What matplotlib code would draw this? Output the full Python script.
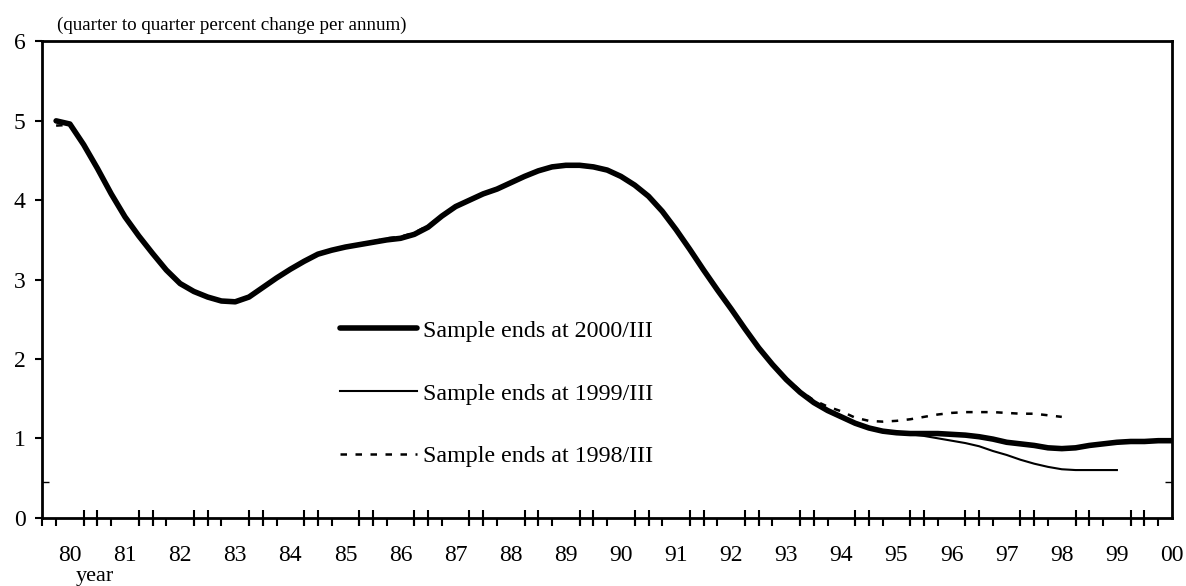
import numpy as np
import matplotlib
matplotlib.use("Agg")
import matplotlib.pyplot as plt

plt.rcParams["font.family"] = ["Liberation Serif", "DejaVu Serif"]

# Quarterly growth of potential output, first observation 1980/II
start_year = 1980.25
sample_2000 = [
    5.00, 4.96, 4.70, 4.40, 4.08, 3.79, 3.55, 3.33, 3.12, 2.95,
    2.85, 2.78, 2.73, 2.72, 2.78, 2.90, 3.02, 3.13, 3.23, 3.32,
    3.37, 3.41, 3.44, 3.47, 3.50, 3.52, 3.57, 3.66, 3.80, 3.92,
    4.00, 4.08, 4.14, 4.22, 4.30, 4.37, 4.42, 4.44, 4.44, 4.42,
    4.38, 4.30, 4.19, 4.05, 3.86, 3.63, 3.38, 3.12, 2.87, 2.63,
    2.38, 2.14, 1.93, 1.74, 1.58, 1.45, 1.35, 1.27, 1.19, 1.13,
    1.09, 1.07, 1.06, 1.06, 1.06, 1.05, 1.04, 1.02, 0.99, 0.95,
    0.93, 0.91, 0.88, 0.87, 0.88, 0.91, 0.93, 0.95, 0.96, 0.96,
    0.97, 0.97,
]
sample_1999 = [
    5.00, 4.96, 4.70, 4.40, 4.08, 3.79, 3.55, 3.33, 3.12, 2.95,
    2.85, 2.78, 2.73, 2.72, 2.78, 2.90, 3.02, 3.13, 3.23, 3.32,
    3.37, 3.41, 3.44, 3.47, 3.50, 3.52, 3.57, 3.66, 3.80, 3.92,
    4.00, 4.08, 4.14, 4.22, 4.30, 4.37, 4.42, 4.44, 4.44, 4.42,
    4.38, 4.30, 4.19, 4.05, 3.86, 3.63, 3.38, 3.12, 2.87, 2.63,
    2.38, 2.14, 1.93, 1.74, 1.58, 1.45, 1.35, 1.27, 1.19, 1.13,
    1.09, 1.07, 1.05, 1.03, 1.00, 0.97, 0.94, 0.90, 0.84, 0.79,
    0.73, 0.68, 0.64, 0.61, 0.60, 0.60, 0.60, 0.60,
]
sample_1998 = [
    4.94, 4.95, 4.70, 4.40, 4.08, 3.79, 3.55, 3.33, 3.12, 2.95,
    2.85, 2.78, 2.73, 2.72, 2.78, 2.90, 3.02, 3.13, 3.23, 3.32,
    3.37, 3.41, 3.45, 3.48, 3.52, 3.54, 3.59, 3.68, 3.81, 3.92,
    4.00, 4.08, 4.14, 4.22, 4.30, 4.37, 4.42, 4.44, 4.43, 4.41,
    4.37, 4.29, 4.18, 4.04, 3.86, 3.63, 3.38, 3.12, 2.87, 2.63,
    2.39, 2.15, 1.94, 1.76, 1.60, 1.48, 1.40, 1.34, 1.26, 1.22,
    1.21, 1.22, 1.24, 1.27, 1.30, 1.32, 1.33, 1.33, 1.33, 1.32,
    1.31, 1.31, 1.29, 1.27,
]
year_labels = ["80", "81", "82", "83", "84", "85", "86", "87", "88", "89",
               "90", "91", "92", "93", "94", "95", "96", "97", "98", "99", "00"]

def quarter_axis(values):
    return start_year + 0.25 * np.arange(len(values))

fig = plt.figure(figsize=(11.86, 5.86), dpi=100)
ax = fig.add_axes([0.0357, 0.1166, 0.9525, 0.8126])

l2000, = ax.plot(quarter_axis(sample_2000), sample_2000, color="black", lw=4.0,
                 solid_capstyle="round", label="Sample ends at 2000/III", zorder=3)
l1999, = ax.plot(quarter_axis(sample_1999), sample_1999, color="black", lw=1.5,
                 label="Sample ends at 1999/III", zorder=2)
l1998, = ax.plot(quarter_axis(sample_1998), sample_1998, color="black", lw=1.8,
                 dashes=(2.6, 3.4), label="Sample ends at 1998/III", zorder=2)

x_first, x_last = 1980.0, 2000.5
ax.set_xlim(x_first, x_last)
ax.set_ylim(0, 6)

# year labels sit on the third quarter of each year
label_pos = 1980.5 + np.arange(len(year_labels))
ax.set_xticks(label_pos)
ax.set_xticklabels(year_labels)
ax.tick_params(axis="x", which="major", length=0, pad=20, labelsize=17)

# quarterly ticks below the axis
ax.set_xticks(np.arange(x_first, x_last + 0.01, 0.25), minor=True)
ax.tick_params(axis="x", which="minor", direction="out", length=5.8, width=1.5)

# taller marks crossing the axis around each year boundary
boundary = ax.secondary_xaxis("bottom")
boundary.set_xticks(np.concatenate([np.arange(1980.75, 2000.0, 1.0),
                                    np.arange(1981.0, 2000.1, 1.0)]))
boundary.tick_params(direction="inout", length=12.2, width=1.5, labelbottom=False)
boundary.spines["bottom"].set_visible(False)

ax.set_yticks(range(0, 7))
ax.tick_params(axis="y", which="major", direction="out", length=5, width=1.5,
               pad=7, labelsize=17, right=False)
ax.set_yticks([0.45], minor=True)
ax.tick_params(axis="y", which="minor", direction="in", length=5, width=1.0,
               left=True, right=True)

for s in ax.spines.values():
    s.set_linewidth(2.0)

ax.legend(handles=[l2000, l1999, l1998], loc="upper left",
          bbox_to_anchor=(0.2635, 0.415), frameon=False, fontsize=17.3,
          handlelength=3.2, handletextpad=0.25, labelspacing=1.7,
          borderpad=0, borderaxespad=0)

fig.text(0.048, 0.949, "(quarter to quarter percent change per annum)",
         fontsize=13.7, va="baseline", ha="left")
fig.text(0.064, 0.0085, "year", fontsize=16, va="baseline", ha="left")

fig.savefig("out.png", dpi=100)
